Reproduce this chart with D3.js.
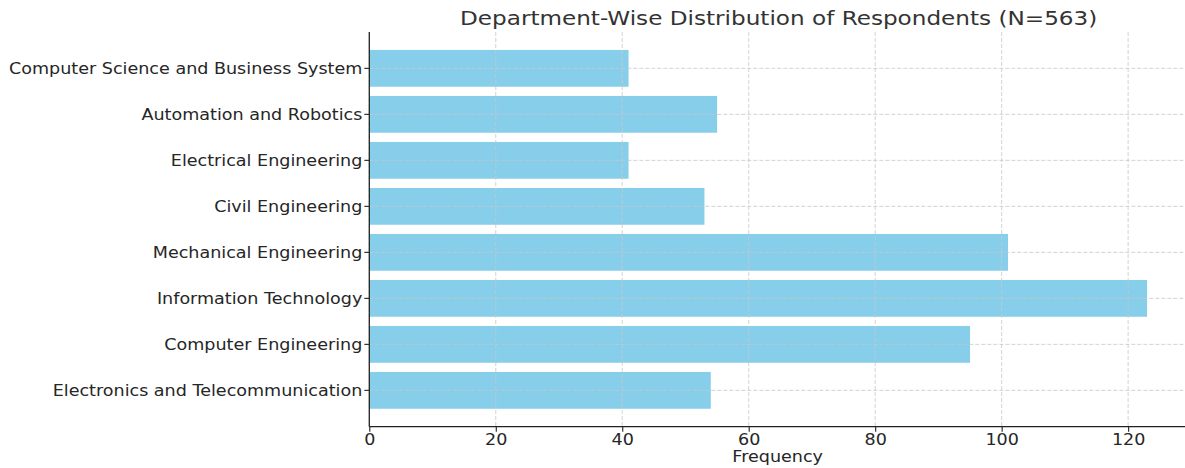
<!DOCTYPE html>
<html>
<head>
<meta charset="utf-8">
<script src="https://cdn.jsdelivr.net/npm/d3@7"></script>
<style>
  body { margin: 0; background: #fff; }
  text { font-family: "DejaVu Sans", sans-serif; }
</style>
</head>
<body>
<script>
// Data (top to bottom)
const departments = [
  "Computer Science and Business System",
  "Automation and Robotics",
  "Electrical Engineering",
  "Civil Engineering",
  "Mechanical Engineering",
  "Information Technology",
  "Computer Engineering",
  "Electronics and Telecommunication"
];
const counts = [41, 55, 41, 53, 101, 123, 95, 54];
const xTicks = [0, 20, 40, 60, 80, 100, 120];

const W = 1185, H = 468;
const plotLeft = 369.3, plotRight = 1186, plotTop = 32, plotBottom = 426.7;
const sx = 1.14; // reference text looks horizontally stretched

const svg = d3.select("body").append("svg")
  .attr("width", W)
  .attr("height", H);

const x = d3.scaleLinear()
  .domain([0, d3.max(counts) * 1.05])
  .range([plotLeft, plotRight]);

const y = d3.scaleBand()
  .domain(departments)
  .range([plotTop, plotBottom])
  .paddingInner(0.2)
  .paddingOuter(0.39);

const rows = departments.map((d, i) => ({ name: d, value: counts[i] }));

// Bars
svg.selectAll(".bar")
  .data(rows)
  .enter()
  .append("rect")
  .attr("class", "bar")
  .attr("x", x(0))
  .attr("y", d => y(d.name))
  .attr("width", d => x(d.value) - x(0))
  .attr("height", y.bandwidth())
  .attr("fill", "#87ceeb");

// Grid (drawn over bars)
const grid = svg.append("g")
  .attr("stroke", "#c8c8c8")
  .attr("stroke-width", 0.8)
  .attr("stroke-dasharray", "4,2");

grid.selectAll(".vgrid")
  .data(xTicks)
  .enter()
  .append("line")
  .attr("x1", d => x(d)).attr("x2", d => x(d))
  .attr("y1", plotTop).attr("y2", plotBottom);

grid.selectAll(".hgrid")
  .data(departments)
  .enter()
  .append("line")
  .attr("x1", plotLeft).attr("x2", plotRight)
  .attr("y1", d => y(d) + y.bandwidth() / 2)
  .attr("y2", d => y(d) + y.bandwidth() / 2);

// Y axis
const yAxis = svg.append("g")
  .attr("transform", `translate(${plotLeft},0)`)
  .call(d3.axisLeft(y).tickSize(5).tickPadding(2));
yAxis.select(".domain").attr("stroke", "#222").attr("stroke-width", 1.3)
  .attr("d", `M0,${plotTop}V${plotBottom}`);
yAxis.selectAll(".tick line").attr("stroke", "#222").attr("stroke-width", 1.1);
yAxis.selectAll(".tick text")
  .attr("font-size", "15.4px")
  .attr("fill", "#262626")
  .attr("dy", "0.38em")
  .attr("x", -7 / sx)
  .attr("transform", `scale(${sx},1)`)
  .style("font-family", "DejaVu Sans");

// X axis
const xAxis = svg.append("g")
  .attr("transform", `translate(0,${plotBottom})`)
  .call(d3.axisBottom(x).tickValues(xTicks).tickSize(5).tickPadding(2));
xAxis.select(".domain").attr("stroke", "#222").attr("stroke-width", 1.3)
  .attr("d", `M${plotLeft},0H${plotRight}`);
xAxis.selectAll(".tick line").attr("stroke", "#222").attr("stroke-width", 1.1);
xAxis.selectAll(".tick text")
  .attr("font-size", "15.4px")
  .attr("fill", "#262626")
  .attr("transform", `scale(${sx},1)`)
  .style("font-family", "DejaVu Sans");

// X label
svg.append("text")
  .attr("transform", `translate(${(plotLeft + plotRight) / 2},462) scale(${sx},1)`)
  .attr("text-anchor", "middle")
  .attr("font-size", "15.4px")
  .attr("fill", "#262626")
  .text("Frequency");

// Title
svg.append("text")
  .attr("transform", `translate(${(plotLeft + plotRight) / 2 + 1},25) scale(${sx},1)`)
  .attr("text-anchor", "middle")
  .attr("font-size", "20.3px")
  .attr("fill", "#333")
  .text("Department-Wise Distribution of Respondents (N=563)");
</script>
</body>
</html>
